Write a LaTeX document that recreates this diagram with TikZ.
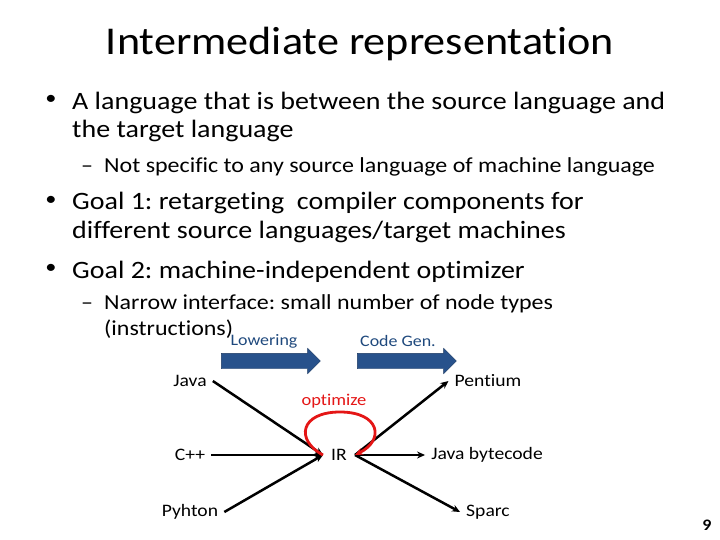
\documentclass[tikz,border=0pt]{standalone}
\usepackage{fontspec}
\setmainfont{Carlito}[FakeStretch=1.12, Ligatures=NoCommon]
\usetikzlibrary{arrows.meta,shapes.arrows}
\definecolor{slideblue}{RGB}{31,73,125}
\definecolor{arrowblue}{RGB}{40,82,140}
\definecolor{loopred}{RGB}{228,22,22}
\frenchspacing
\begin{document}
\begin{tikzpicture}[x=1pt, y=-1pt,
  line/.style={anchor=base west, inner sep=0pt},
  big/.style={line, font=\fontsize{25}{28}\selectfont},
  small/.style={line, font=\fontsize{21.4}{24}\selectfont},
  dot/.style={font=\fontsize{20}{20}\selectfont},
  lang/.style={inner xsep=6pt, inner ysep=2pt, font=\fontsize{17.5}{20}\selectfont},
  stage/.style={text=slideblue, font=\fontsize{16}{18}\selectfont},
  blockarrow/.style={single arrow, fill=arrowblue, draw=arrowblue!70!black,
    minimum height=99pt, inner xsep=0pt, inner ysep=7.5pt, single arrow head extend=5pt},
  arrow/.style={-{Stealth[length=8pt,width=7pt]}, line width=2.5pt}
]
\useasboundingbox (0,0) rectangle (720,540);
\node[font=\fontsize{39.4}{48}\selectfont, anchor=base, inner sep=0pt] (title) at (360,55) {Intermediate representation};
% bullets
\node[dot] (d1) at (51,100) {•};
\node[big] (b1a) at (72,110) {A language that is between the source language and};
\node[big] (b1b) at (72,138) {the target language};
\node[small] (s1d) at (81,173) {–};
\node[small] (s1) at (104,173) {Not specific to any source language of machine language};
\node[dot] (d2) at (51,201) {•};
\node[big] (b2a) at (72,210) {Goal 1: retargeting\ \ compiler components for};
\node[big] (b2b) at (72,238) {different source languages/target machines};
\node[dot] (d3) at (51,269) {•};
\node[big] (b3) at (72,278) {Goal 2: machine-independent optimizer};
\node[small] (s2d) at (81,309) {–};
\node[small] (s2a) at (104,309) {Narrow interface: small number of node types};
\node[small] (s2b) at (104,335) {(instructions)};
% diagram
\node[stage] (lower) at (264,341) {Lowering};
\node[stage] (codegen) at (398,341) {Code Gen.};
\node[blockarrow] (la) at (267,361) {};
\node[blockarrow] (ca) at (403,361) {};
\node[lang] (java) at (190,381) {Java};
\node[lang] (cpp) at (190,455) {C++};
\node[lang] (py) at (190,512) {Pyhton};
\node[lang, inner xsep=8pt] (ir) at (339,455) {IR};
\node[lang] (pent) at (488,381) {Pentium};
\node[lang] (jbc) at (487,455) {Java bytecode};
\node[lang] (sparc) at (488,512) {Sparc};
\node[lang, text=loopred, font=\fontsize{16.5}{20}\selectfont] (opt) at (334,401) {optimize};
\draw[arrow] (java.east) -- (ir.west);
\draw[arrow] (cpp.east) -- (ir.west);
\draw[arrow] (py.east) -- (ir.west);
\draw[arrow] (ir.east) -- (pent.west);
\draw[arrow] (ir.east) -- (jbc.west);
\draw[arrow] (ir.east) -- (sparc.west);
\draw[arrow, draw=loopred, line width=2.8pt] (ir.west) .. controls (295,440) and (300,412) .. (340,412)
  .. controls (380,412) and (385,440) .. (ir.east);
\node[font=\bfseries\fontsize{16}{18}\selectfont, inner sep=0pt] (page) at (707,525) {9};
\end{tikzpicture}
\end{document}
